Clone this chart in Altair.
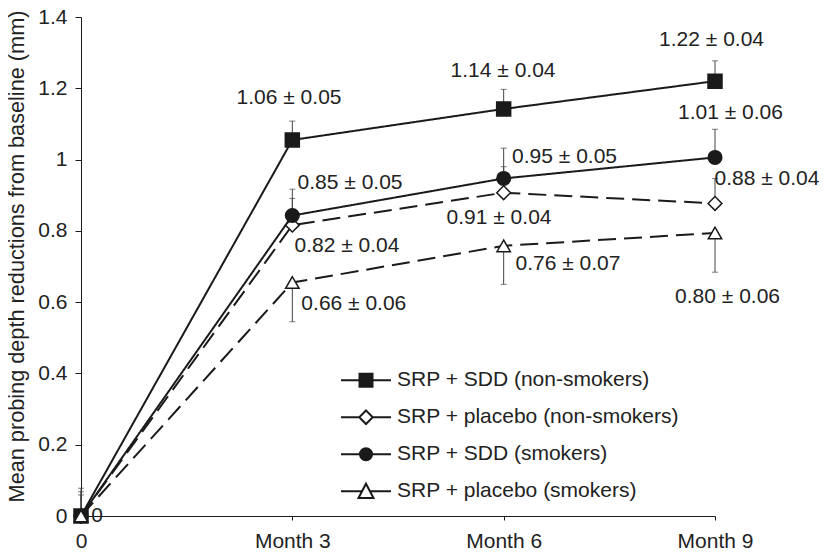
import altair as alt
import pandas as pd

FONT = "Liberation Sans"

# ---- data ----
months = [0, 3, 6, 9]
month_labels = ["0", "Month 3", "Month 6", "Month 9"]
series = ["SRP + SDD (non-smokers)", "SRP + placebo (non-smokers)",
          "SRP + SDD (smokers)", "SRP + placebo (smokers)"]

sdd_nonsmokers = [0, 1.055, 1.142, 1.220]
placebo_nonsmokers = [0, 0.816, 0.907, 0.877]
sdd_smokers = [0, 0.843, 0.947, 1.006]
placebo_smokers = [0, 0.655, 0.758, 0.794]

# end of each drawn error bar
sdd_nonsmokers_err = [0.059, 1.108, 1.197, 1.277]
placebo_nonsmokers_err = [0.068, 0.891, 0.980, 0.947]
sdd_smokers_err = [0.078, 0.917, 1.032, 1.085]
placebo_smokers_err = [0, 0.545, 0.650, 0.684]

label_texts = ["1.06 ± 0.05", "1.14 ± 0.04", "1.22 ± 0.04", "1.01 ± 0.06",
               "0.85 ± 0.05", "0.82 ± 0.04", "0.66 ± 0.06", "0.95 ± 0.05",
               "0.91 ± 0.04", "0.76 ± 0.07", "0.88 ± 0.04", "0.80 ± 0.06", "0"]
label_month = [2.953, 5.991, 8.951, 9.220, 3.819, 3.776, 3.873, 6.864,
               5.934, 6.913, 9.738, 9.178, 0.227]
label_value = [1.172, 1.249, 1.336, 1.132, 0.933, 0.758, 0.594, 1.006,
               0.835, 0.707, 0.945, 0.615, 0.0]

y_ticks = [0, 0.2, 0.4, 0.6, 0.8, 1.0, 1.2, 1.4]

# ---- tables ----
vals = [sdd_nonsmokers, placebo_nonsmokers, sdd_smokers, placebo_smokers]
errs = [sdd_nonsmokers_err, placebo_nonsmokers_err, sdd_smokers_err, placebo_smokers_err]
rows = []
for i, s in enumerate(series):
    for j, m in enumerate(months):
        rows.append({"series": s, "order": i, "month": m, "value": vals[i][j], "err": errs[i][j]})
df = pd.DataFrame(rows)
err_df = df[df["err"] != df["value"]]
lab_df = pd.DataFrame({"lab_m": label_month, "lab_v": label_value, "text": label_texts})

TITLE = "Mean probing depth reductions from baseline (mm)"
INK = "#1a1a1a"
FILLS = [INK, "white", INK, "white"]

label_expr = " : ".join(
    f"datum.value == {m} ? '{t}'" for m, t in zip(months, month_labels)) + " : ''"

x_axis = alt.Axis(values=months, labelExpr=label_expr, grid=False, tickSize=4,
                  labelPadding=10, labelFont=FONT, labelFontSize=21, labelColor="#222",
                  domainColor=INK, tickColor=INK, labelFlush=False, labelOverlap=False)
y_axis = alt.Axis(values=y_ticks, format="~g", grid=False, tickSize=6, labelPadding=8,
                  labelFont=FONT, labelFontSize=21, labelColor="#222",
                  domainColor=INK, tickColor=INK,
                  titleFont=FONT, titleFontSize=21.7, titleFontWeight="normal",
                  titleColor="#222", titleAngle=-90, titleX=-57.5, titleY=239,
                  titleAlign="center", titleBaseline="alphabetic")

xs = alt.Scale(domain=[0, 9], nice=False, zero=False)
ys = alt.Scale(domain=[0, 1.4], nice=False)


def X(f):
    return alt.X(f"{f}:Q", scale=xs, axis=x_axis, title=None)


def Y(f):
    return alt.Y(f"{f}:Q", scale=ys, axis=y_axis, title=TITLE)


fill_enc = alt.Fill("series:N", scale=alt.Scale(domain=series, range=FILLS), legend=None)

err_rules = alt.Chart(err_df).mark_rule(color="#444", strokeWidth=1).encode(
    x=X("month"), y=Y("value"), y2="err:Q")
err_caps = alt.Chart(err_df).mark_tick(orient="horizontal", size=6, thickness=1,
                                       color="#444").encode(x=X("month"), y=Y("err"))

lines = alt.Chart(df).mark_line(color=INK, strokeWidth=2).encode(
    x=X("month"), y=Y("value"), detail="series:N",
    strokeDash=alt.StrokeDash("series:N", scale=alt.Scale(
        domain=series, range=[[1, 0], [18, 8], [1, 0], [18, 8]]), legend=None))

points = alt.Chart(df).mark_point(stroke=INK, strokeWidth=1.5, opacity=1,
                                  fillOpacity=1).encode(
    x=X("month"), y=Y("value"),
    shape=alt.Shape("series:N", scale=alt.Scale(
        domain=series, range=["square", "diamond", "circle", "triangle-up"]), legend=None),
    fill=fill_enc,
    size=alt.Size("series:N", scale=alt.Scale(
        domain=series, range=[196, 180, 130, 200]), legend=None),
    order="order:Q")

# legend symbols: a short line through each marker
legend_shapes = [
    "M-1,0H-0.26M0.26,0H1M-0.26,-0.26H0.26V0.26H-0.26Z",
    "M-1,0H-0.27M0.27,0H1M0,-0.27L0.27,0L0,0.27L-0.27,0Z",
    "M-1,0H-0.24M0.24,0H1M-0.24,0A0.24,0.24,0,1,1,0.24,0A0.24,0.24,0,1,1,-0.24,0Z",
    "M-1,0H-0.16M0.16,0H1M0,-0.3L0.3,0.27L-0.3,0.27Z",
]


def pick(options):
    return " : ".join(f"datum.value == '{s}' ? '{o}'" for s, o in zip(series, options)) \
        + f" : '{options[0]}'"


legend = alt.Legend(
    title=None, orient="none", legendX=259, legendY=346,
    symbolType={"expr": pick(legend_shapes)},
    symbolFillColor={"expr": pick(FILLS)},
    symbolStrokeWidth=2, symbolStrokeColor=INK,
    symbolOpacity=1, labelFont=FONT, labelFontSize=21,
    labelColor="#222", labelOffset=5, clipHeight=34.5,
    rowPadding=2, padding=0, labelLimit=400)

legend_layer = alt.Chart(df).transform_filter("false").mark_point(
    stroke=INK, strokeWidth=2, opacity=1, fillOpacity=1).encode(
    x=X("month"), y=Y("value"),
    fill=fill_enc,
    size=alt.Size("series:N", scale=alt.Scale(domain=series, range=[2500] * 4),
                  legend=legend))

labels = alt.Chart(lab_df).mark_text(font=FONT, fontSize=21, color="#222",
                                     align="center", baseline="middle").encode(
    x=X("lab_m"), y=Y("lab_v"), text="text:N")

chart = alt.layer(err_rules, err_caps, lines, points, legend_layer, labels).resolve_scale(
    size="independent"
).properties(
    width=634, height=499,
    autosize=alt.AutoSizeParams(type="none"),
    padding={"left": 73, "top": 9, "right": 105, "bottom": 40},
    background="white",
).configure_view(stroke=None)

chart.save("out.html", embed_options={"renderer": "svg", "actions": False})
